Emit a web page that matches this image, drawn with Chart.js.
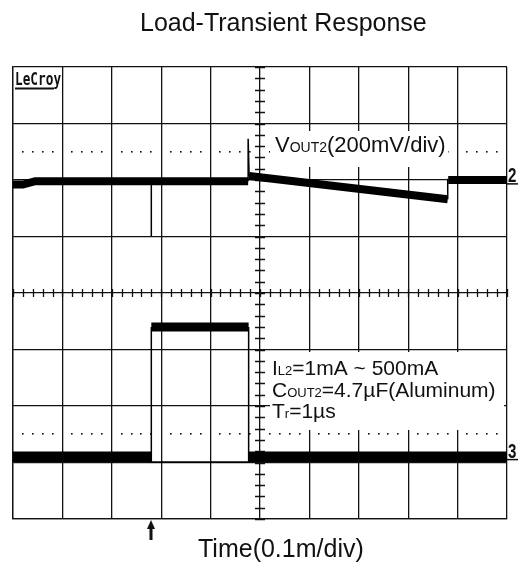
<!DOCTYPE html>
<html>
<head>
<meta charset="utf-8">
<script src="https://cdn.jsdelivr.net/npm/chart.js@4"></script>
<style>
  body { margin: 0; background: #fff; }
  canvas { display: block; }
</style>
</head>
<body>
<canvas id="scope" width="518" height="565"></canvas>
<script>
// time in divisions (0.1ms/div), levels in divisions from screen centre
const ch2Time = [0, 0.2, 0.45, 4.76, 4.77, 4.78, 8.80, 8.805, 8.81, 10];
const ch2Level = [1.92, 1.92, 1.98, 1.98, null, 2.07, 1.66, null, 2.0, 2.0];

// thin parts of channel 2: glitch at trigger, spike at load release, recovery step
const ch2EdgeTime = [2.80, 2.80, 2.81, 4.76, 4.76, 4.78, 4.79, 8.80, 8.80];
const ch2EdgeLevel = [1.98, 1.01, null, 1.98, 2.73, 2.07, null, 1.66, 2.02];

// channel 3 = load current
const ch3LowTime = [0, 2.80, 2.81, 4.77, 10];
const ch3LowLevel = [-2.90, -2.90, null, -2.90, -2.90];
const ch3HighTime = [2.80, 4.77];
const ch3HighLevel = [-0.60, -0.60];
const ch3EdgeTime = [2.80, 2.80, 4.77, 4.77];
const ch3EdgeLevel = [-0.60, -2.99, -2.99, -0.60];

const refLevels = [2.5, -2.5];
const triggerTime = 2.80;
const channelMarks = [["2", 1.98], ["3", -2.90]];

function pts(xs, ys) {
  return xs.map((x, i) => ({ x: x, y: ys[i] }));
}

function drawParts(ctx, parts, x, y) {
  // parts: [text, fontSize]
  parts.forEach(p => {
    ctx.font = p[1] + "px 'Liberation Sans', Arial, sans-serif";
    ctx.fillText(p[0], x, y);
    x += ctx.measureText(p[0]).width;
  });
}

const ink = "#111";

const scopeDecor = {
  id: "scopeDecor",
  beforeDatasetsDraw(chart) {
    const ctx = chart.ctx;
    const xs = chart.scales.x;
    const ys = chart.scales.y;
    ctx.save();
    ctx.fillStyle = ink;
    ctx.strokeStyle = ink;
    ctx.lineWidth = 1.3;

    // minor ticks on the centre axes
    const cx = xs.getPixelForValue(5);
    const cy = ys.getPixelForValue(0);
    ctx.beginPath();
    for (let i = 0; i <= 50; i++) {
      const px = Math.round(xs.getPixelForValue(i / 5)) + 0.5;
      ctx.moveTo(px, cy - 4);
      ctx.lineTo(px, cy + 4);
    }
    for (let i = 0; i <= 40; i++) {
      const py = Math.round(ys.getPixelForValue(-4 + i / 5)) + 0.5;
      ctx.moveTo(cx - 5, py);
      ctx.lineTo(cx + 5, py);
    }
    ctx.stroke();

    // reference dots
    refLevels.forEach(lv => {
      const py = ys.getPixelForValue(lv);
      for (let d = 0; d < 10; d++) {
        for (let k = 1; k <= 4; k++) {
          const px = xs.getPixelForValue(d + k / 5);
          ctx.fillRect(Math.round(px) - 1, Math.round(py) - 1, 1.6, 1.6);
        }
      }
    });

    // white label boxes
    ctx.fillStyle = "#fff";
    ctx.fillRect(270, 131, 178, 36);
    ctx.fillRect(270, 352, 234, 78);

    ctx.fillStyle = ink;
    ctx.textBaseline = "alphabetic";
    ctx.textAlign = "left";
    drawParts(ctx, [["V", 22], ["OUT2", 14], ["(200mV/div)", 22]], 275, 152);
    drawParts(ctx, [["I", 21], ["L2", 13], ["=1mA ~ 500mA", 21]], 272, 375);
    drawParts(ctx, [["C", 21], ["OUT2", 13], ["=4.7\u00b5F(Aluminum)", 21]], 272, 396.5);
    drawParts(ctx, [["T", 21], ["r", 13], ["=1\u00b5s", 21]], 272, 418);

    // LeCroy badge
    ctx.save();
    ctx.translate(15, 85);
    ctx.scale(0.85, 1.15);
    ctx.font = "bold 15px 'DejaVu Sans Mono', monospace";
    ctx.fillText("LeCroy", 0, 0);
    ctx.restore();
    ctx.fillRect(15, 87.5, 39, 2);
    ctx.restore();
  },
  afterDraw(chart) {
    const ctx = chart.ctx;
    const xs = chart.scales.x;
    const ys = chart.scales.y;
    const area = chart.chartArea;
    ctx.save();
    ctx.fillStyle = ink;
    ctx.strokeStyle = ink;

    ctx.font = "25px 'Liberation Sans', Arial, sans-serif";
    ctx.textAlign = "left";
    ctx.fillText("Load-Transient Response", 140, 30.5);
    ctx.fillText("Time(0.1m/div)", 198, 557);

    // trigger arrow
    const tx = Math.round(xs.getPixelForValue(triggerTime));
    ctx.fillRect(tx - 1.5, area.bottom + 7, 3, 14);
    ctx.beginPath();
    ctx.moveTo(tx, area.bottom + 1);
    ctx.lineTo(tx - 4, area.bottom + 10);
    ctx.lineTo(tx + 4, area.bottom + 10);
    ctx.closePath();
    ctx.fill();

    // channel markers on the right edge
    channelMarks.forEach(m => {
      const py = ys.getPixelForValue(m[1]);
      ctx.save();
      ctx.translate(area.right + 1, py + 1);
      ctx.scale(0.72, 1);
      ctx.font = "bold 21px 'Liberation Sans', Arial, sans-serif";
      ctx.fillText(m[0], 0, 0);
      ctx.restore();
      ctx.fillRect(area.right, py + 2, 11, 1.5);
    });
    ctx.restore();
  }
};

const band = (data, w) => ({
  data: data,
  borderColor: "#000",
  borderWidth: w,
  pointRadius: 0,
  borderCapStyle: "butt",
  borderJoinStyle: "miter",
  spanGaps: false,
  tension: 0
});

new Chart(document.getElementById("scope"), {
  type: "line",
  data: {
    datasets: [
      band(pts(ch2Time, ch2Level), 8),
      band(pts(ch2EdgeTime, ch2EdgeLevel), 1.5),
      band(pts(ch3LowTime, ch3LowLevel), 10.5),
      band(pts(ch3HighTime, ch3HighLevel), 9),
      band(pts(ch3EdgeTime, ch3EdgeLevel), 1.5)
    ]
  },
  options: {
    responsive: false,
    animation: false,
    devicePixelRatio: 1,
    layout: { padding: { left: 13, right: 11, top: 67, bottom: 46 } },
    plugins: { legend: { display: false }, tooltip: { enabled: false } },
    scales: {
      x: {
        type: "linear", min: 0, max: 10,
        ticks: { display: false, stepSize: 1 },
        grid: { color: ink, lineWidth: 1.3, drawTicks: false },
        border: { color: ink, width: 1.3 }
      },
      y: {
        type: "linear", min: -4, max: 4,
        ticks: { display: false, stepSize: 1 },
        grid: { color: ink, lineWidth: 1.3, drawTicks: false },
        border: { color: ink, width: 1.3 }
      }
    }
  },
  plugins: [scopeDecor]
});
</script>
</body>
</html>
